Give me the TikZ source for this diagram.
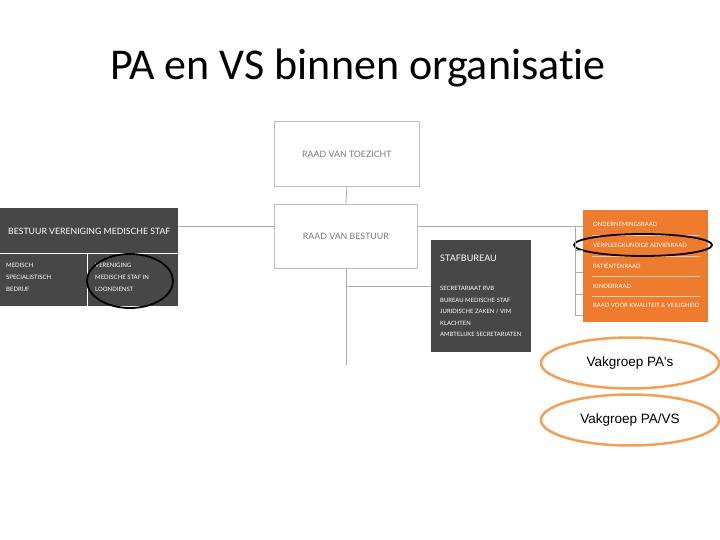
\documentclass[tikz,border=0pt]{standalone}
\usepackage{fontspec}
\setmainfont[Ligatures={TeX,NoCommon}]{Carlito}
\newfontfamily\orgfont{Lato}
\newfontfamily\arialfont[Ligatures=TeXOff]{Liberation Sans}
\usetikzlibrary{positioning,shapes.geometric}
\definecolor{boxdark}{HTML}{474747}
\definecolor{orgorange}{HTML}{EF7B2E}
\definecolor{ringorange}{HTML}{F2A055}
\definecolor{textgray}{HTML}{7A7A7A}
\definecolor{linegray}{HTML}{ABABAB}
\tikzset{
  whitebox/.style={draw=linegray!80, line width=.8pt, fill=white, inner sep=0pt, anchor=north west,
    font=\orgfont\fontsize{8.8}{10}\selectfont, text=textgray},
  dkbox/.style={fill=boxdark, inner sep=0pt, anchor=north west},
  conn/.style={draw=linegray, line width=.8pt},
  sepline/.style={draw=white, line width=.5pt},
  itm/.style={anchor=west, text=white, inner sep=0pt, font=\orgfont\fontsize{5.9}{6}\selectfont},
  listtxt/.style={anchor=north west, align=left, text=white, inner sep=0pt},
  ring/.style={ellipse, draw=black, line width=1.8pt, inner sep=0pt},
  vakgroep/.style={ellipse, draw=ringorange, line width=2.5pt, fill=white, inner sep=0pt,
    minimum width=178pt, minimum height=51pt, font=\arialfont\fontsize{13.5}{15}\selectfont},
}
\begin{document}
\begin{tikzpicture}[x=1pt, y=-1pt]
  \useasboundingbox (0,0) rectangle (720,540);
  \node[anchor=base, font=\fontsize{44}{50}\selectfont] (title) at (358,80) {PA en VS binnen organisatie};

  % raden van toezicht en bestuur
  \node[whitebox, minimum width=145pt, minimum height=65pt] (rvt) at (274,121) {RAAD VAN TOEZICHT};
  \node[whitebox, minimum width=143pt, minimum height=64pt] (rvb) at (274,204) {RAAD VAN BESTUUR};

  % bestuur vms
  \node[dkbox, minimum width=178pt, minimum height=98pt] (bvms) at (0,208) {};
  \node[itm, font=\orgfont\fontsize{8.7}{9}\selectfont] (bvmstitle) at (8,231) {BESTUUR VERENIGING MEDISCHE STAF};
  \coordinate (cellsep) at (87,253);
  \draw[sepline] (bvms.west |- cellsep) -- (bvms.east |- cellsep);
  \draw[sepline] (cellsep) -- (cellsep |- bvms.south);
  \node[listtxt, font=\orgfont\fontsize{6}{12}\selectfont] (msb) at (6,263) {MEDISCH\\SPECIALISTISCH\\BEDRIJF};
  \node[listtxt, font=\orgfont\fontsize{6}{12}\selectfont] (vmsl) at (95,263) {VERENIGING\\MEDISCHE STAF IN\\LOONDIENST};
  \node[ring, minimum width=86pt, minimum height=54pt] (ringvms) at (130,281) {};

  % stafbureau
  \node[dkbox, minimum width=100pt, minimum height=112pt] (staf) at (431,240) {};
  \node[itm, font=\orgfont\fontsize{9}{10}\selectfont] (staftitle) at (440,258) {STAFBUREAU};
  \node[listtxt, font=\orgfont\fontsize{5.9}{11.6}\selectfont] (staflist) at (440,286)
    {SECRETARIAAT RVB\\BUREAU MEDISCHE STAF\\JURIDISCHE ZAKEN / VIM\\KLACHTEN\\AMBTELIJKE SECRETARIATEN};

  % adviesraden
  \node[fill=orgorange, inner sep=0pt, anchor=north west, minimum width=125pt, minimum height=112pt] (raden) at (583,210) {};
  \foreach \y/\txt [count=\i] in {224/ONDERNEMINGSRAAD, 245/VERPLEEGKUNDIGE ADVIESRAAD,
      266/PATIËNTENRAAD, 286/KINDERRAAD, 305/RAAD VOOR KWALITEIT \& VEILIGHEID}{
    \node[itm] (raad\i) at (593,\y) {\txt};
  }
  \foreach \y in {235,256,276,296}{
    \draw[sepline, draw opacity=.6] (592,\y) -- (700,\y);
  }
  \node[ring, minimum width=138pt, minimum height=22pt] (ringvpk) at (643,245) {};

  % verbindingen
  \coordinate (hl) at (0,226);
  \coordinate (stem) at (346,365);
  \coordinate (stafline) at (0,286);
  \coordinate (bus) at (575,226);
  \draw[conn] (bvms.east |- hl) -- (rvb.west |- hl);
  \draw[conn] (rvb.east |- hl) -- (raden.west |- hl);
  \draw[conn] (rvt.south) -- (rvb.north);
  \draw[conn] (rvb.south) -- (rvb.south |- stem);
  \draw[conn] (rvb.south |- stafline) -- (staf.west |- stafline);
  \draw[conn] (bus) -- (575,315);
  \foreach \y in {250,272,294,315}{
    \draw[conn] (575,\y) -- (raden.west |- 575,\y);
  }

  % vakgroepen
  \node[vakgroep] (vgpa) at (630,363) {Vakgroep PA's};
  \node[vakgroep] (vgpavs) at (630,420) {Vakgroep PA/VS};
\end{tikzpicture}
\end{document}
